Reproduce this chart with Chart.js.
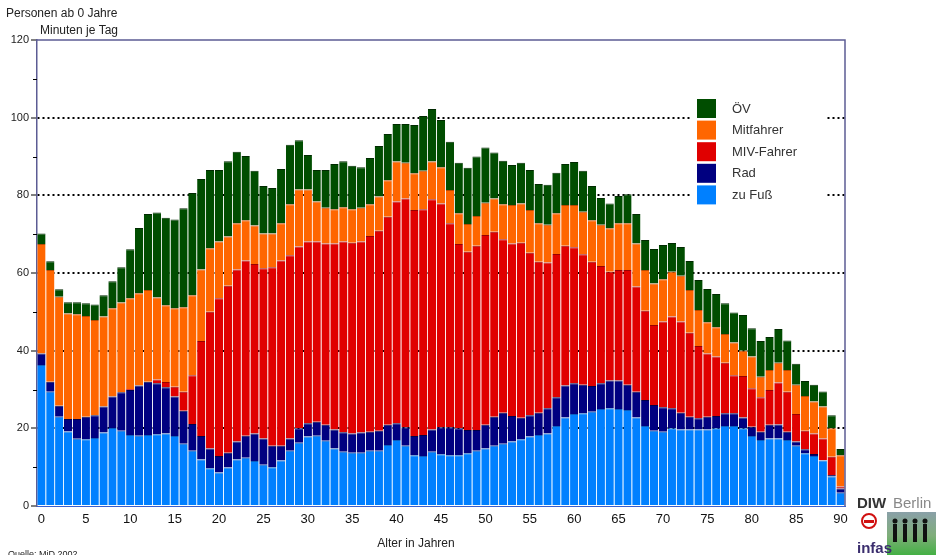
<!DOCTYPE html>
<html>
<head>
<meta charset="utf-8">
<script src="https://cdn.jsdelivr.net/npm/chart.js@4.4.1/dist/chart.umd.min.js"></script>
<style>
  html, body { margin: 0; padding: 0; background: #fff; }
  #wrap { width: 936px; height: 555px; position: relative; }
</style>
</head>
<body>
<div id="wrap"><canvas id="chart" width="936" height="555"></canvas></div>
<script>
// Alter 0..90
const ages = [0,1,2,3,4,5,6,7,8,9,10,11,12,13,14,15,16,17,18,19,20,21,22,23,24,25,26,27,28,29,
  30,31,32,33,34,35,36,37,38,39,40,41,42,43,44,45,46,47,48,49,50,51,52,53,54,55,56,57,58,59,
  60,61,62,63,64,65,66,67,68,69,70,71,72,73,74,75,76,77,78,79,80,81,82,83,84,85,86,87,88,89,90];

// Minuten je Tag, von unten nach oben gestapelt
const zuFuss = [36.3,29.4,23.0,19.2,17.3,17.2,17.5,18.9,20.1,19.4,
  18.3,18.1,18.3,18.5,18.7,18.0,16.0,14.2,12.0,9.7,
  8.6,9.9,12.0,12.4,11.6,10.6,10.0,11.7,14.2,16.3,
  17.9,18.1,16.8,14.8,14.0,13.7,13.7,14.2,14.2,15.7,
  17.0,15.5,13.1,12.9,14.0,13.3,13.1,13.1,13.6,14.2,
  14.8,15.5,16.0,16.6,17.2,17.9,18.3,18.7,20.6,22.8,
  23.7,23.9,24.3,25.0,25.2,25.0,24.7,22.8,20.6,19.4,
  19.1,20.0,19.7,19.7,19.7,19.7,20.0,20.6,20.6,20.0,
  18.0,17.0,17.4,17.4,17.0,15.5,13.6,12.9,11.7,7.6,3.4];
const rad = [3.0,2.6,2.8,3.2,5.1,5.8,5.9,6.7,8.1,9.9,
  11.6,12.9,13.7,13.1,11.9,10.2,8.5,6.9,6.0,5.1,
  4.3,3.8,4.6,5.7,7.1,6.8,5.5,3.8,3.2,3.7,
  3.4,3.6,4.1,4.9,5.0,5.0,5.2,4.9,5.2,5.2,
  4.3,4.8,4.9,5.4,5.7,7.0,7.2,6.9,6.0,5.4,
  6.1,7.5,8.0,6.6,5.5,5.5,5.7,6.5,7.4,8.2,
  7.9,7.3,6.6,6.6,7.1,7.3,6.5,6.6,6.7,6.6,
  6.3,5.2,4.3,3.3,2.9,3.3,3.2,3.3,3.3,2.8,
  2.4,2.1,3.5,3.6,2.1,1.1,1.0,0.5,0.1,0.4,1.1];
const mivFahrer = [0,0,0,0,0,0,0,0,0,0,
  0.2,0,0,1.0,1.3,2.5,4.9,12.6,24.5,35.2,
  40.6,43.0,44.3,45.1,43.6,43.8,46.0,47.7,47.2,46.8,
  46.8,46.4,46.7,47.9,49.1,49.1,49.2,50.4,51.5,53.6,
  57.1,58.9,58.2,58.1,59.3,57.6,52.5,47.5,45.9,47.4,
  48.9,47.6,44.7,44.4,45.1,41.8,38.9,37.5,36.9,36.0,
  35.0,33.6,32.0,30.2,28.0,28.5,29.6,27.1,23.0,20.6,
  22.1,23.6,23.5,21.6,18.6,16.3,15.3,13.0,9.8,10.7,
  9.9,8.9,9.0,10.8,10.3,7.1,4.8,5.3,5.6,4.7,0.5];
const mitfahrer = [28.2,28.8,28.1,27.2,27.0,25.9,24.5,23.2,22.7,23.1,
  23.4,23.8,23.6,21.1,19.8,20.2,21.8,20.6,18.4,16.4,
  14.6,12.7,11.9,10.4,9.9,9.0,8.7,9.6,13.1,14.7,
  13.4,10.3,9.2,8.8,8.8,8.6,8.7,8.2,8.8,9.4,
  10.3,9.2,9.5,9.9,9.7,9.3,8.6,7.9,7.1,7.7,
  8.3,8.6,9.0,9.9,10.1,11.0,9.9,9.7,10.5,10.5,
  10.9,11.0,10.7,10.6,11.2,12.0,12.0,11.1,10.5,10.7,
  10.9,11.5,11.8,11.0,9.3,8.0,7.5,7.4,8.4,6.5,
  8.2,5.3,5.1,5.1,5.6,7.5,8.9,8.2,8.2,7.3,8.1];
const oev = [2.7,2.2,1.9,2.9,3.1,3.3,4.0,5.5,7.0,9.1,
  12.6,16.8,19.6,21.9,22.5,22.9,25.5,26.3,23.3,20.1,
  18.4,19.4,18.4,16.5,14.1,12.2,11.7,14.0,15.3,12.7,
  8.9,8.1,9.7,11.7,11.9,11.2,10.4,11.9,13.0,11.9,
  9.7,10.0,12.4,14.1,13.5,12.2,12.4,13.0,14.5,15.3,
  14.2,11.8,11.2,10.3,10.5,10.3,10.1,10.3,10.4,10.6,
  11.1,10.5,8.8,6.9,6.4,7.0,7.5,7.6,7.7,8.9,
  8.8,7.4,7.4,7.5,7.7,8.6,8.6,7.9,7.7,9.2,
  7.3,9.2,8.5,8.7,7.6,5.4,3.9,4.3,3.9,3.4,1.6];

const seriesNames = ["zu Fuß", "Rad", "MIV-Fahrer", "Mitfahrer", "ÖV"];
const seriesColors = ["#0080ff", "#000080", "#e00000", "#ff6600", "#004d00"];
const seriesEdges = ["#0a5fc0", "#00004a", "#9a0000", "#b84a00", "#002a00"];
const gridValues = [20, 40, 60, 80, 100];

const frameColor = "#5c5c94";
const font = "'Liberation Sans', Arial, sans-serif";

const seriesData = [zuFuss, rad, mivFahrer, mitfahrer, oev];
const datasets = seriesData.map((d, i) => ({
  label: seriesNames[i],
  data: d,
  backgroundColor: seriesColors[i],
  borderColor: seriesEdges[i],
  borderWidth: { top: 1, right: 0, bottom: 0, left: 0 },
  borderSkipped: false,
  barPercentage: 0.93,
  categoryPercentage: 1.0,
}));

// kleine Striche bei 10, 30, ..., Rahmen oben/rechts
const framePlugin = {
  id: "frame",
  afterDraw(chart) {
    const ctx = chart.ctx;
    const a = chart.chartArea;
    const y = chart.scales.y;
    ctx.save();
    ctx.strokeStyle = "#000";
    ctx.lineWidth = 1;
    [10, 30, 50, 70, 90, 110].forEach((v) => {
      const py = Math.round(y.getPixelForValue(v)) + 0.5;
      ctx.beginPath();
      ctx.moveTo(a.left - 4, py);
      ctx.lineTo(a.left, py);
      ctx.stroke();
    });
    ctx.strokeStyle = frameColor;
    ctx.lineWidth = 1.5;
    ctx.beginPath();
    ctx.moveTo(a.left, a.top);
    ctx.lineTo(a.right, a.top);
    ctx.lineTo(a.right, a.bottom);
    ctx.stroke();
    ctx.restore();
  },
};

// Legende im Diagramm
const legendPlugin = {
  id: "innerLegend",
  afterDatasetsDraw(chart) {
    const ctx = chart.ctx;
    ctx.save();
    ctx.fillStyle = "#fff";
    ctx.fillRect(690, 95, 136, 113);
    ctx.font = "13px " + font;
    ctx.textBaseline = "middle";
    for (let i = 0; i < 5; i++) {
      const s = 4 - i;
      const top = 99 + i * 21.6;
      ctx.fillStyle = seriesColors[s];
      ctx.fillRect(697, top, 19, 19);
      ctx.fillStyle = "#333";
      ctx.fillText(seriesNames[s], 732, top + 10);
    }
    ctx.restore();
  },
};

// Beschriftungen ausserhalb der Achsen
const textPlugin = {
  id: "texts",
  afterDraw(chart) {
    const ctx = chart.ctx;
    ctx.save();
    ctx.fillStyle = "#222";
    ctx.textBaseline = "alphabetic";
    ctx.font = "12px " + font;
    ctx.fillText("Personen ab 0 Jahre", 6, 17);
    ctx.fillText("Minuten je Tag", 40, 34);
    ctx.textAlign = "center";
    ctx.fillText("Alter in Jahren", 416, 547);
    ctx.textAlign = "left";
    ctx.font = "9px " + font;
    ctx.fillText("Quelle: MiD 2002", 8, 557);

    // Logos (vereinfacht)
    ctx.font = "bold 15px " + font;
    ctx.fillStyle = "#333";
    ctx.fillText("DIW", 857, 508);
    ctx.font = "15px " + font;
    ctx.fillStyle = "#888";
    ctx.fillText("Berlin", 893, 508);
    ctx.strokeStyle = "#d01010";
    ctx.lineWidth = 2;
    ctx.beginPath();
    ctx.arc(869, 521, 7, 0, Math.PI * 2);
    ctx.stroke();
    ctx.fillStyle = "#d01010";
    ctx.fillRect(864, 520, 10, 3);
    const g = ctx.createLinearGradient(0, 512, 0, 555);
    g.addColorStop(0, "#8aa0a8");
    g.addColorStop(0.55, "#7fae7a");
    g.addColorStop(1, "#44b044");
    ctx.fillStyle = g;
    ctx.fillRect(887, 512, 49, 43);
    ctx.fillStyle = "#111";
    [893, 903, 913, 923].forEach((x) => {
      ctx.fillRect(x, 524, 4, 18);
      ctx.beginPath();
      ctx.arc(x + 2, 521, 2.5, 0, Math.PI * 2);
      ctx.fill();
    });
    ctx.font = "bold 15px 'Liberation Sans Narrow', " + font;
    ctx.fillStyle = "#3b2e6e";
    ctx.fillText("infas", 857, 553);
    ctx.restore();
  },
};

new Chart(document.getElementById("chart"), {
  type: "bar",
  data: { labels: ages, datasets: datasets },
  plugins: [framePlugin, legendPlugin, textPlugin],
  options: {
    responsive: false,
    animation: false,
    devicePixelRatio: 1,
    layout: { padding: { left: 0, top: 40, right: 91, bottom: 0 } },
    plugins: { legend: { display: false }, tooltip: { enabled: false } },
    scales: {
      x: {
        stacked: true,
        grid: { display: false, drawTicks: false },
        border: { display: true, color: "#3a5fcd", width: 1 },
        ticks: {
          autoSkip: false,
          maxRotation: 0,
          padding: 6,
          color: "#111",
          font: { family: "'Liberation Sans Narrow', 'Liberation Sans', Arial", size: 13 },
          callback: function (v, i) { return i % 5 === 0 ? String(ages[i]) : ""; },
        },
        afterFit(s) { s.height = 49; },
      },
      y: {
        stacked: true,
        min: 0,
        max: 120,
        ticks: { stepSize: 20, padding: 2, color: "#222", font: { family: font, size: 11 } },
        grid: {
          color: (c) => (gridValues.includes(c.tick.value) ? "#000" : "rgba(0,0,0,0)"),
          lineWidth: 2,
          tickLength: 6,
          tickColor: "#000",
          tickWidth: 1,
        },
        border: { display: true, color: frameColor, width: 1.5, dash: [2, 3] },
        afterFit(s) { s.width = 37; },
      },
    },
  },
});
</script>
</body>
</html>
